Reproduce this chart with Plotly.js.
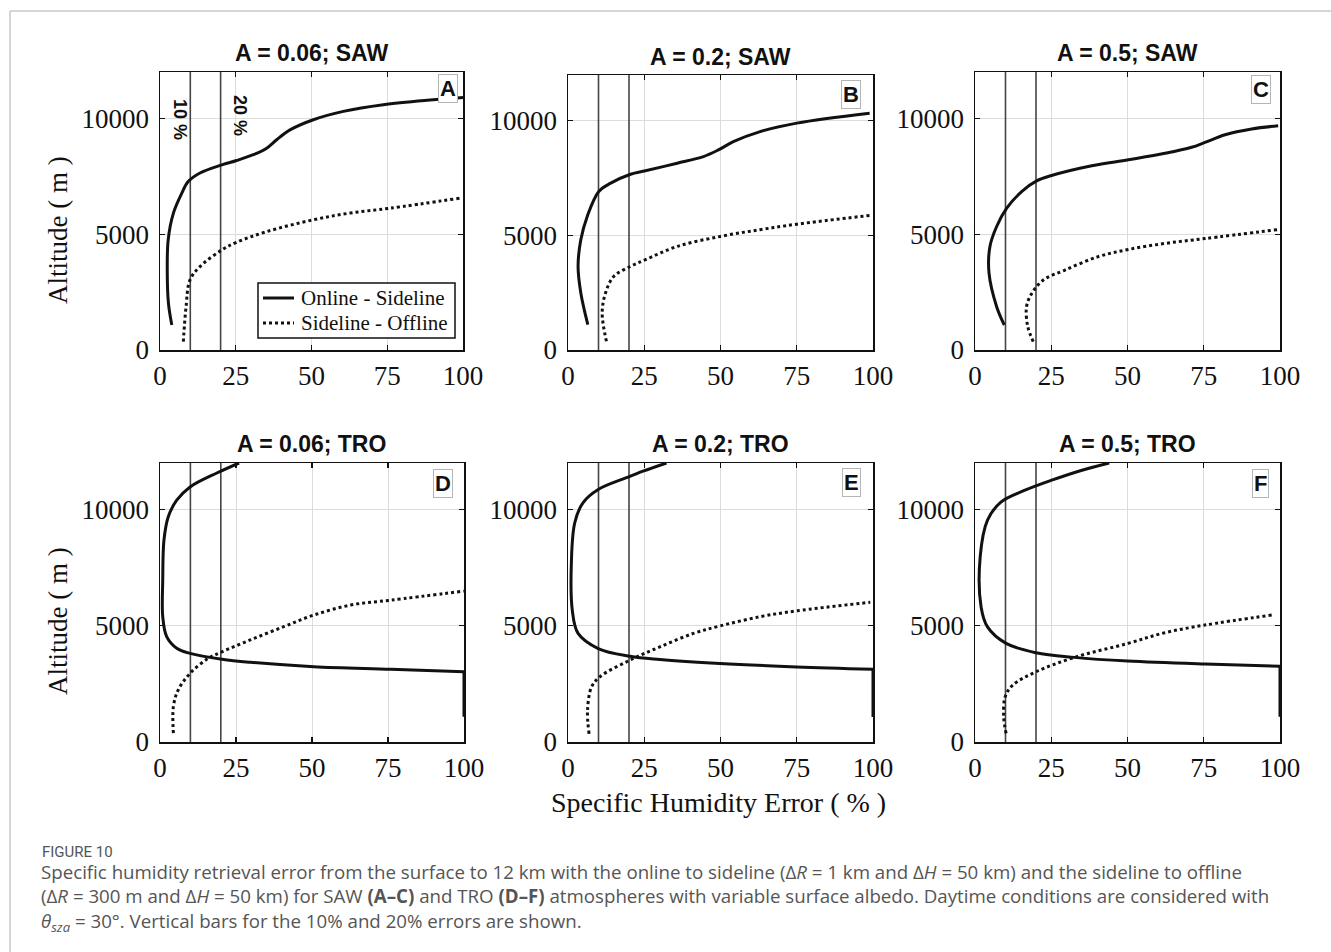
<!DOCTYPE html>
<html>
<head>
<meta charset="utf-8">
<script src="https://cdn.plot.ly/plotly-3.0.1.min.js"></script>
<style>
  html, body { margin: 0; padding: 0; background: #ffffff; }
  #chart { width: 1331px; height: 952px; }
</style>
</head>
<body>
<div id="chart"></div>
<script>
// Specific humidity error profiles (x: error in %, y: altitude in m)

// Axis ticks
const xTickVals = [0, 25, 50, 75, 100];
const xTickText = ['0', '25', '50', '75', '100'];
const yTickVals = [0, 5000, 10000];
const yTickText = ['0', '5000', '10000'];
const thresholds = [10, 20];
const altitudeSpan = [0, 12000];

// Panel titles
const panelTitles = ['A = 0.06; SAW', 'A = 0.2; SAW', 'A = 0.5; SAW',
                     'A = 0.06; TRO', 'A = 0.2; TRO', 'A = 0.5; TRO'];
const panelLetters = ['A', 'B', 'C', 'D', 'E', 'F'];
const seriesNames = ['Online - Sideline', 'Sideline - Offline'];

// SAW, albedo 0.06
const sawA006OnX = [3.9, 2.8, 2.4, 2.7, 4.4, 7.2, 9.3, 13.2, 20.4, 25.3, 30.8, 35.2, 38.5, 42.9, 50.6, 60.5, 73.7, 90.2, 100];
const sawA006OnY = [1080, 2000, 3315, 4750, 5900, 6770, 7270, 7640, 7990, 8180, 8430, 8710, 9075, 9500, 9940, 10300, 10590, 10800, 10900];
const sawA006OffX = [7.7, 8.6, 9.9, 13.2, 20.4, 25.3, 35.2, 50.6, 62.7, 75.9, 99];
const sawA006OffY = [360, 1870, 3025, 3600, 4320, 4650, 5110, 5620, 5910, 6120, 6555];

// SAW, albedo 0.2
const sawA02OnX = [6.5, 4.2, 3.3, 4.2, 6.3, 10.1, 14, 20.5, 25.4, 35.8, 44.4, 49.3, 54.2, 63, 75, 98.9];
const sawA02OnY = [1107, 2490, 3650, 4810, 5830, 6920, 7280, 7670, 7820, 8150, 8440, 8730, 9090, 9530, 9900, 10330];
const sawA02OffX = [12.6, 11.2, 12.3, 15, 20.5, 25.4, 35.8, 49.9, 63, 75, 98.9];
const sawA02OffY = [380, 1615, 2490, 3210, 3650, 3940, 4520, 4955, 5250, 5490, 5870];

// SAW, albedo 0.5
const sawA05OnX = [9.6, 7.1, 4.6, 4.9, 7.1, 10.4, 15.3, 20.2, 25.1, 38.3, 50.3, 62.3, 71, 75.4, 82, 90.7, 99.4];
const sawA05OnY = [1080, 1870, 3315, 4465, 5330, 6120, 6840, 7300, 7530, 7950, 8210, 8490, 8750, 8960, 9290, 9540, 9680];
const sawA05OffX = [19.1, 17.3, 16.9, 18.6, 22.4, 29.5, 40.4, 50.3, 62.3, 75.4, 99.4];
const sawA05OffY = [360, 1010, 1870, 2440, 3020, 3450, 4030, 4340, 4600, 4810, 5200];

// TRO, albedo 0.06 (errors above 100 % are held at 100 %)
const troA006CapX = [100, 100];
const troA006CapY = [1090, 3020];
const troA006OnX = [100, 75.9, 50.6, 29.7, 20.4, 9.9, 5.5, 2.2, 0.9, 0.9, 1.3, 2.7, 5.5, 9.9, 18.7, 26];
const troA006OnY = [3020, 3130, 3240, 3430, 3560, 3810, 4030, 4530, 5390, 6960, 8680, 9680, 10400, 10970, 11570, 12000];
const troA006OffX = [4.4, 4.4, 6, 9.9, 15.9, 20.4, 29.7, 40.7, 50.6, 62.7, 75.9, 100];
const troA006OffY = [380, 1520, 2240, 2955, 3600, 3880, 4390, 4960, 5460, 5890, 6100, 6490];

// TRO, albedo 0.2
const troA02CapX = [100, 100];
const troA02CapY = [1070, 3130];
const troA02OnX = [100, 75, 49.8, 30.1, 20.3, 9.9, 3.3, 1.4, 1.1, 2.2, 4.9, 9.9, 19.2, 24.6, 32.3];
const troA02OnY = [3130, 3230, 3375, 3550, 3690, 4020, 4670, 5680, 7700, 9420, 10290, 10860, 11370, 11650, 12000];
const troA02OffX = [6.9, 6.4, 7.7, 10.4, 20.3, 30.1, 41.1, 49.8, 63, 75, 99.1];
const troA02OffY = [350, 1360, 2360, 2800, 3520, 4090, 4670, 4990, 5390, 5640, 6010];

// TRO, albedo 0.5
const troA05CapX = [100, 100];
const troA05CapY = [1090, 3260];
const troA05OnX = [100, 75.4, 50.1, 32.6, 20, 10.2, 4.1, 2, 1.7, 4.1, 8.5, 16.2, 24.9, 34.8, 44];
const troA05OnY = [3260, 3350, 3480, 3640, 3840, 4240, 4950, 5810, 7960, 9540, 10320, 10820, 11250, 11680, 12000];
const troA05OffX = [10.2, 9.4, 9.9, 12.4, 20, 32.6, 50.1, 62.2, 75.4, 97.3];
const troA05OffY = [370, 1090, 1950, 2450, 3020, 3640, 4240, 4700, 5030, 5460];

// Caption text
const figureLabel = 'FIGURE 10';
const captionLines = [
  'Specific humidity retrieval error from the surface to 12 km with the online to sideline (Δ<i>R</i> = 1 km and Δ<i>H</i> = 50 km) and the sideline to offline',
  '(Δ<i>R</i> = 300 m and Δ<i>H</i> = 50 km) for SAW <b>(A–C)</b> and TRO <b>(D–F)</b> atmospheres with variable surface albedo. Daytime conditions are considered with',
  '<i>θ</i><sub><i>sza</i></sub> = 30°. Vertical bars for the 10% and 20% errors are shown.'
];
const xAxisTitle = 'Specific Humidity Error ( % )';
const yAxisTitle = 'Altitude ( m )';

// ---------------------------------------------------------------------------
const W = 1331, H = 952;
const px = v => v / W;
const py = v => 1 - v / H;

const SERIF = 'Liberation Serif, Times New Roman, serif';
const SANS = 'Liberation Sans, Arial, sans-serif';
const INK = '#111111';

// Plot boxes in pixels: [left, right, top, bottom]; letter box centre; title centre
const panels = [
  {box: [160, 463, 72, 350], letter: [448, 88], title: [311, 53],
   on: [sawA006OnX, sawA006OnY], off: [sawA006OffX, sawA006OffY]},
  {box: [568, 873, 75, 350], letter: [851, 95], title: [720, 57],
   on: [sawA02OnX, sawA02OnY], off: [sawA02OffX, sawA02OffY]},
  {box: [975, 1280, 72, 350], letter: [1261, 89], title: [1127, 53],
   on: [sawA05OnX, sawA05OnY], off: [sawA05OffX, sawA05OffY]},
  {box: [160, 464, 463, 742], letter: [443, 483], title: [311, 444],
   on: [troA006OnX, troA006OnY], off: [troA006OffX, troA006OffY], cap: [troA006CapX, troA006CapY]},
  {box: [568, 873, 463, 742], letter: [851, 482], title: [720, 444],
   on: [troA02OnX, troA02OnY], off: [troA02OffX, troA02OffY], cap: [troA02CapX, troA02CapY]},
  {box: [975, 1280, 463, 742], letter: [1260, 483], title: [1127, 444],
   on: [troA05OnX, troA05OnY], off: [troA05OffX, troA05OffY], cap: [troA05CapX, troA05CapY]}
];

const traces = [];
const layout = {
  width: W, height: H,
  margin: {l: 0, r: 0, t: 0, b: 0},
  paper_bgcolor: '#ffffff', plot_bgcolor: '#ffffff',
  showlegend: false,
  annotations: [],
  shapes: [
    {type: 'line', xref: 'paper', yref: 'paper', x0: px(10), x1: 1, y0: py(11), y1: py(11),
     line: {color: '#c8c8c8', width: 1.5}},
    {type: 'line', xref: 'paper', yref: 'paper', x0: px(10), x1: px(10), y0: py(11), y1: 0,
     line: {color: '#c8c8c8', width: 1.5}}
  ]
};

panels.forEach((p, i) => {
  const n = i + 1;
  const xa = n === 1 ? 'x' : 'x' + n;
  const ya = n === 1 ? 'y' : 'y' + n;
  const [l, r, t, b] = p.box;

  const axisBase = {
    showline: true, linecolor: INK, linewidth: 1.5, mirror: 'allticks',
    ticks: 'inside', ticklen: 5, tickwidth: 1.2, tickcolor: INK,
    showgrid: true, gridcolor: '#dcdcdc', gridwidth: 1, zeroline: false,
    tickfont: {family: SERIF, size: 27, color: INK}, fixedrange: true
  };
  layout[n === 1 ? 'xaxis' : 'xaxis' + n] = Object.assign({}, axisBase, {
    domain: [px(l), px(r)], anchor: ya, range: [0, 100],
    tickmode: 'array', tickvals: xTickVals, ticktext: xTickText, ticklabelstandoff: 1
  });
  layout[n === 1 ? 'yaxis' : 'yaxis' + n] = Object.assign({}, axisBase, {
    domain: [py(b), py(t)], anchor: xa, range: altitudeSpan,
    tickmode: 'array', tickvals: yTickVals, ticktext: yTickText, ticklabelstandoff: 4
  });

  // 10 % and 20 % reference bars
  thresholds.forEach(v => {
    traces.push({x: [v, v], y: altitudeSpan, xaxis: xa, yaxis: ya, mode: 'lines',
      line: {color: '#454545', width: 1.6}, hoverinfo: 'skip'});
  });

  traces.push({x: p.off[0], y: p.off[1], xaxis: xa, yaxis: ya, mode: 'lines',
    name: seriesNames[1],
    line: {color: INK, width: 3, dash: 'dot', shape: 'spline', smoothing: 1}});
  traces.push({x: p.on[0], y: p.on[1], xaxis: xa, yaxis: ya, mode: 'lines',
    name: seriesNames[0],
    line: {color: INK, width: 3, shape: 'spline', smoothing: 1}});
  if (p.cap) {
    traces.push({x: p.cap[0], y: p.cap[1], xaxis: xa, yaxis: ya, mode: 'lines',
      name: seriesNames[0], line: {color: INK, width: 3}});
  }

  layout.annotations.push({
    text: '<b>' + panelTitles[i] + '</b>', xref: 'paper', yref: 'paper',
    x: px(p.title[0]), y: py(p.title[1]), xanchor: 'center', yanchor: 'middle',
    showarrow: false, font: {family: SANS, size: 23, color: INK}
  });
  layout.annotations.push({
    text: '<b>' + panelLetters[i] + '</b>', xref: 'paper', yref: 'paper',
    x: px(p.letter[0]), y: py(p.letter[1]), xanchor: 'center', yanchor: 'middle',
    showarrow: false, font: {family: SANS, size: 22, color: INK},
    bgcolor: '#ffffff', bordercolor: '#b5b5b5', borderwidth: 1, borderpad: 1
  });
});

// Legend box in the first panel: frame, line samples and labels
const legendBox = {l: 258, r: 455, t: 283, b: 338, rows: [298, 323], sample: [263, 294], textX: 299};
layout.shapes.push({type: 'rect', xref: 'paper', yref: 'paper',
  x0: px(legendBox.l), x1: px(legendBox.r), y0: py(legendBox.b), y1: py(legendBox.t),
  fillcolor: '#ffffff', line: {color: INK, width: 1.5}, layer: 'above'});
seriesNames.forEach((name, k) => {
  const yRow = legendBox.rows[k];
  layout.shapes.push({type: 'line', xref: 'paper', yref: 'paper',
    x0: px(legendBox.sample[0]), x1: px(legendBox.sample[1]), y0: py(yRow), y1: py(yRow),
    line: {color: INK, width: 3, dash: k === 0 ? 'solid' : 'dot'}, layer: 'above'});
  layout.annotations.push({
    text: name, xref: 'paper', yref: 'paper', x: px(legendBox.textX), y: py(yRow),
    xanchor: 'left', yanchor: 'middle', showarrow: false,
    font: {family: SERIF, size: 21, color: INK}
  });
});

// Threshold labels on the first panel
[['10 %', 180, 119], ['20 %', 240, 115]].forEach(([txt, x, y]) => {
  layout.annotations.push({
    text: '<b>' + txt + '</b>', xref: 'paper', yref: 'paper', x: px(x), y: py(y),
    xanchor: 'center', yanchor: 'middle', textangle: 90, showarrow: false,
    font: {family: SANS, size: 18, color: INK}
  });
});

// Shared axis titles
[230, 621].forEach(y => {
  layout.annotations.push({
    text: yAxisTitle, xref: 'paper', yref: 'paper', x: px(58), y: py(y),
    xanchor: 'center', yanchor: 'middle', textangle: -90, showarrow: false,
    font: {family: SERIF, size: 27, color: INK}
  });
});
layout.annotations.push({
  text: xAxisTitle, xref: 'paper', yref: 'paper', x: px(718), y: py(802),
  xanchor: 'center', yanchor: 'middle', showarrow: false,
  font: {family: SERIF, size: 28, color: INK}
});

// Caption
layout.annotations.push({
  text: figureLabel, xref: 'paper', yref: 'paper', x: px(40), y: py(852),
  xanchor: 'left', yanchor: 'middle', showarrow: false,
  font: {family: 'Roboto, sans-serif', size: 15, color: '#555555'}
});
layout.annotations.push({
  text: captionLines.join('<br>'), xref: 'paper', yref: 'paper', x: px(40), y: py(858),
  xanchor: 'left', yanchor: 'top', align: 'left', showarrow: false, borderpad: 0,
  font: {family: 'Open Sans, sans-serif', size: 18.7, color: '#555555'}
});

Plotly.newPlot('chart', traces, layout, {displayModeBar: false, staticPlot: true});
</script>
</body>
</html>
